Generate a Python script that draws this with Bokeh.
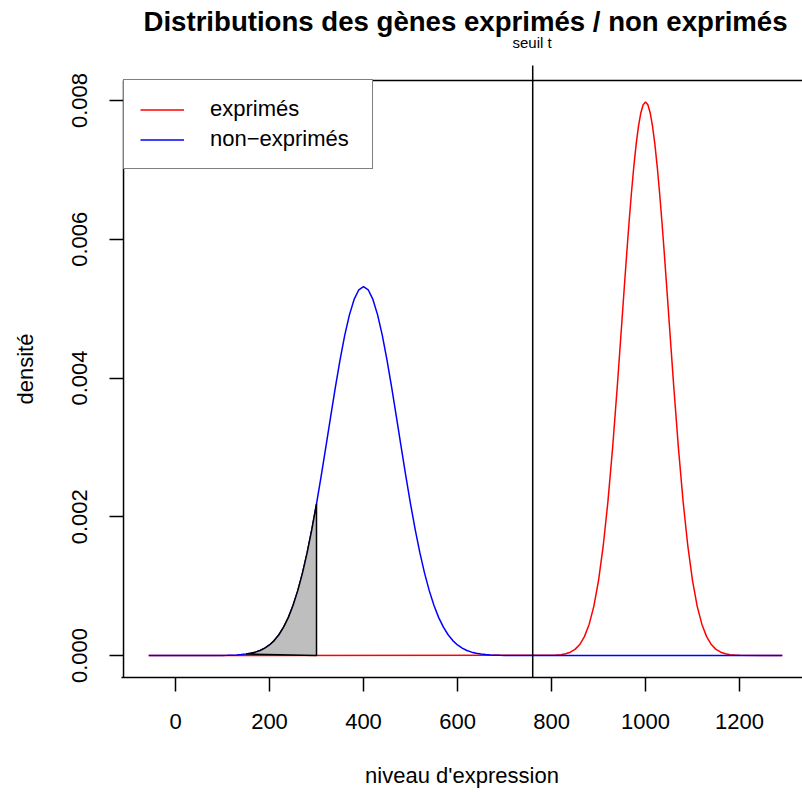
from bokeh.plotting import figure
from bokeh.models import Range1d, FixedTicker, PrintfTickFormatter, Legend, LegendItem, Title
from bokeh.embed import file_html
from bokeh.resources import INLINE

# ---- data ----
# non-exprimés (blue) density curve
x_nonexp = [-57] + list(range(100, 701, 10)) + [1291]
y_nonexp = [0.0,
            0.0000018, 0.0000030, 0.0000050, 0.0000082, 0.0000131, 0.0000206, 0.0000318,
            0.0000483, 0.0000720, 0.000106, 0.000152, 0.000215, 0.000299, 0.000408,
            0.000546, 0.000720, 0.000932, 0.001184, 0.001479, 0.001814, 0.002187,
            0.002589, 0.003012, 0.003441, 0.003863, 0.004259, 0.004614, 0.004910,
            0.005133, 0.005272, 0.005319,
            0.005272, 0.005133, 0.004910, 0.004614, 0.004259, 0.003863, 0.003441,
            0.003012, 0.002589, 0.002187, 0.001814, 0.001479, 0.001184, 0.000932,
            0.000720, 0.000546, 0.000408, 0.000299, 0.000215, 0.000152, 0.000106,
            0.0000720, 0.0000483, 0.0000318, 0.0000206, 0.0000131, 0.0000082, 0.0000050,
            0.0000030, 0.0000018,
            0.0]

# exprimés (red) density curve
x_exp = ([-57] + list(range(800, 950, 10)) + list(range(950, 1051, 5))
         + list(range(1060, 1201, 10)) + [1291])
y_exp = [0.0,
         0.0000027, 0.0000058, 0.0000122, 0.0000246, 0.0000477, 0.0000886, 0.000158,
         0.000272, 0.000448, 0.000709, 0.001080, 0.001579, 0.002218, 0.002995,
         0.003884,
         0.004839, 0.005322, 0.005794, 0.006245, 0.006664, 0.007041, 0.007365,
         0.007628, 0.007821, 0.007939, 0.007979, 0.007939, 0.007821, 0.007628,
         0.007365, 0.007041, 0.006664, 0.006245, 0.005794, 0.005322, 0.004839,
         0.003884, 0.002995, 0.002218, 0.001579, 0.001080, 0.000709, 0.000448,
         0.000272, 0.000158, 0.0000886, 0.0000477, 0.0000246, 0.0000122, 0.0000058,
         0.0000027,
         0.0]

seuil_t = 760
shade_lo, shade_hi = 150, 300

x_ticks = [0, 200, 400, 600, 800, 1000, 1200]
y_ticks = [0.000, 0.002, 0.004, 0.006, 0.008]

title_text = "Distributions des gènes exprimés / non exprimés"
x_label = "niveau d'expression"
y_label = "densité"
legend_labels = ["exprimés", "non\u2212exprimés"]
seuil_label = "seuil t"

# ---- layout constants ----
FONT = "Liberation Sans"
X_START, X_END = -114.9, 1334.0
Y_START, Y_END = -0.000317, 0.008577
BOX_LEFT = -110.6
BOX_TOP = 0.008288
VLINE_TOP = 0.0085045

p = figure(width=802, height=792, output_backend="svg", toolbar_location=None,
           x_range=Range1d(X_START, X_END), y_range=Range1d(Y_START, Y_END),
           min_border_left=121, min_border_right=0, min_border_top=60, min_border_bottom=115)
p.background_fill_color = "white"
p.border_fill_color = "white"
p.outline_line_color = None
p.xgrid.visible = False
p.ygrid.visible = False

# "seuil t" label above the threshold line, then the main title
seuil_title = Title(text=seuil_label, align="left", offset=391, standoff=20,
                    text_font=FONT, text_font_size="15px", text_font_style="normal",
                    text_color="black")
p.add_layout(seuil_title, "above")

p.title.text = title_text
p.title.align = "left"
p.title.offset = 22
p.title.text_font = FONT
p.title.text_font_size = "27.6px"
p.title.text_font_style = "bold"
p.title.text_color = "black"
p.title.standoff = -30

# axes
xa = p.xaxis[0]
xa.ticker = FixedTicker(ticks=x_ticks)
xa.axis_label = x_label
xa.major_tick_out = 14
xa.major_tick_in = 0
xa.minor_tick_out = 0
xa.minor_tick_in = 0
xa.major_label_standoff = 22
xa.axis_label_standoff = 31
xa.axis_line_width = 1.5
xa.major_tick_line_width = 1.5
xa.major_label_text_font = FONT
xa.major_label_text_font_size = "22px"
xa.major_label_text_color = "black"
xa.axis_label_text_font = FONT
xa.axis_label_text_font_size = "22px"
xa.axis_label_text_font_style = "normal"
xa.axis_label_text_color = "black"

ya = p.yaxis[0]
ya.ticker = FixedTicker(ticks=y_ticks)
ya.formatter = PrintfTickFormatter(format="%.3f")
ya.axis_label = y_label
ya.axis_line_color = None
ya.major_tick_out = 12
ya.major_tick_in = 2
ya.minor_tick_out = 0
ya.minor_tick_in = 0
ya.major_label_orientation = "vertical"
ya.major_label_standoff = 22
ya.axis_label_standoff = 32
ya.major_tick_line_width = 1.5
ya.major_label_text_font = FONT
ya.major_label_text_font_size = "22px"
ya.major_label_text_color = "black"
ya.axis_label_text_font = FONT
ya.axis_label_text_font_size = "22px"
ya.axis_label_text_font_style = "normal"
ya.axis_label_text_color = "black"

# box (left and top edges; right edge lies outside the window)
p.segment(x0=[BOX_LEFT], y0=[Y_START], x1=[BOX_LEFT], y1=[BOX_TOP], line_color="black", line_width=1.5)
p.segment(x0=[BOX_LEFT], y0=[BOX_TOP], x1=[X_END], y1=[BOX_TOP], line_color="black", line_width=1.5)

# curves
r_exp = p.line(x_exp, y_exp, line_color="red", line_width=1.5)
r_non = p.line(x_nonexp, y_nonexp, line_color="blue", line_width=1.5)

# shaded area under non-exprimés between shade_lo and shade_hi
xs = [x for x in x_nonexp if shade_lo <= x <= shade_hi]
ys = [y for x, y in zip(x_nonexp, y_nonexp) if shade_lo <= x <= shade_hi]
p.patch(xs + [shade_hi], ys + [0.0], fill_color="#BEBEBE", line_color="black", line_width=1.5)

# threshold line
p.segment(x0=[seuil_t], y0=[Y_START], x1=[seuil_t], y1=[VLINE_TOP], line_color="black", line_width=1.5)

legend = Legend(items=[LegendItem(label=legend_labels[0], renderers=[r_exp]),
                       LegendItem(label=legend_labels[1], renderers=[r_non])],
                location=(2, 508), margin=0, padding=16, spacing=4,
                glyph_width=44, glyph_height=25, label_height=25, label_width=146,
                label_standoff=26, label_text_font=FONT, label_text_font_size="22px",
                label_text_color="black",
                border_line_color="black", border_line_width=1.5,
                background_fill_color="white", background_fill_alpha=1.0)
p.add_layout(legend)

open("out.html", "w").write(file_html(p, INLINE))
